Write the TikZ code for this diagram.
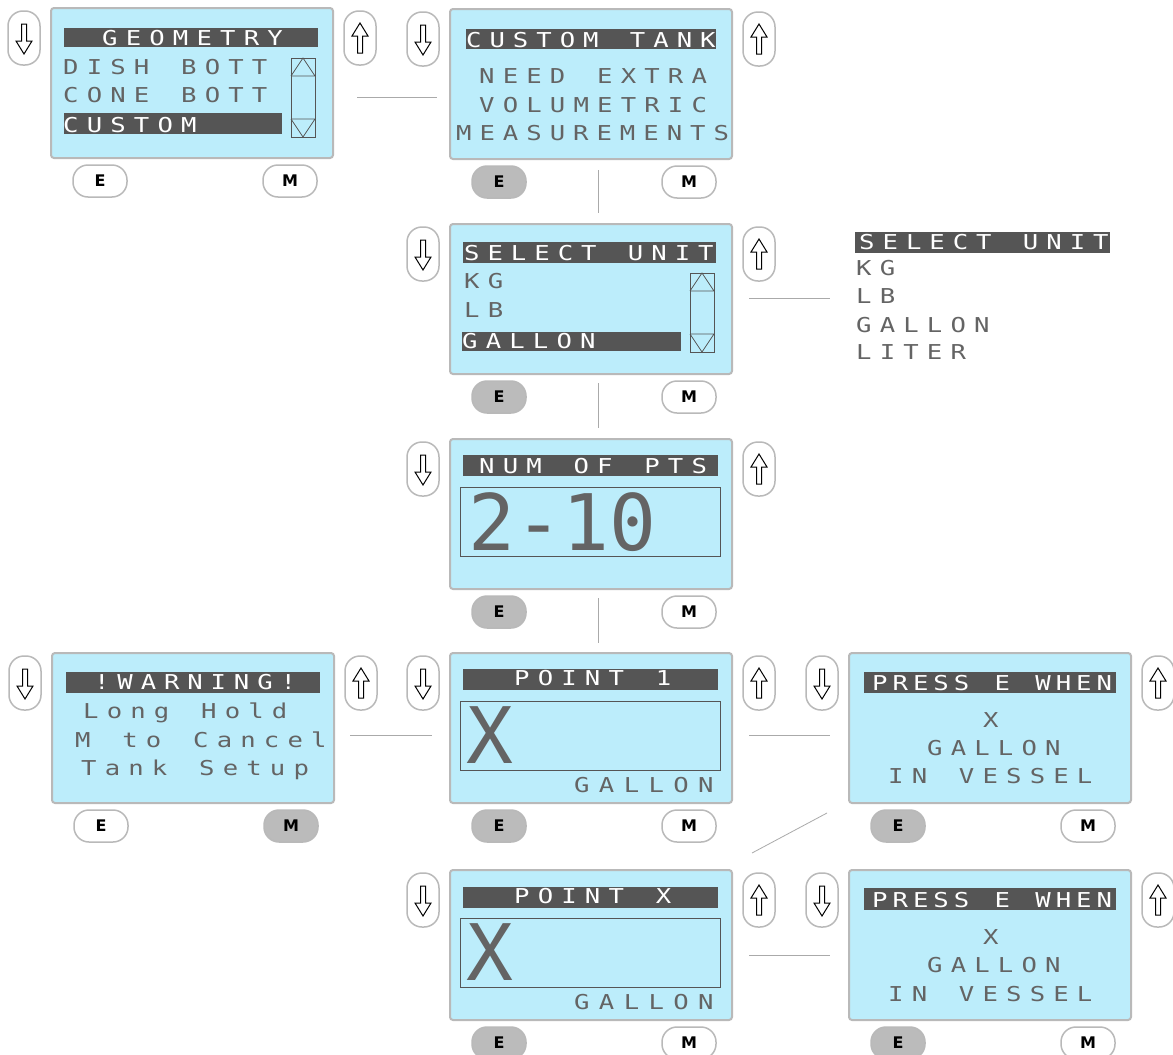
\documentclass[tikz,border=0pt]{standalone}
\usepackage{fontspec}
\usetikzlibrary{calc}
\newfontfamily\lcdfont{DejaVu Sans Mono}[FakeStretch=1.25]
\newfontfamily\lcdbigfont{DejaVu Sans Mono}
\newfontfamily\keyfont{DejaVu Sans}
\definecolor{lcdbg}{RGB}{188,237,251}
\definecolor{lcdedge}{RGB}{185,185,185}
\definecolor{lcdbar}{RGB}{85,85,85}
\definecolor{lcdtext}{RGB}{100,100,100}
\definecolor{keygray}{RGB}{187,187,187}
\definecolor{linkgray}{RGB}{170,170,170}
% one character per cell of fixed pitch, like the display
\ExplSyntaxOn
\NewDocumentCommand \lcdsp { m m } { \str_map_inline:nn {#2} { \makebox[#1][l]{##1} } }
\ExplSyntaxOff

\begin{document}
\begin{tikzpicture}[x=1pt, y=-1pt,
  screen/.style={draw=lcdedge, line width=2pt, fill=lcdbg, rounded corners=3pt,
    minimum width=282pt, minimum height=150pt, inner sep=0pt, outer sep=0pt,
    anchor=north west},
  sidekey/.style={draw=lcdedge, line width=1.5pt, fill=white, rounded corners=15pt,
    minimum width=32pt, minimum height=54pt, inner sep=0pt},
  key/.style={draw=lcdedge, line width=1.5pt, rounded corners=15pt,
    minimum width=54pt, minimum height=32pt, inner sep=0pt,
    font=\keyfont\bfseries\fontsize{16}{16}\selectfont},
  glyph/.style={draw=black, fill=white, line width=1pt},
  bar/.style={fill=lcdbar},
  scroll/.style={draw=lcdbar, line width=0.8pt},
  lcd/.style={font=\lcdfont\fontsize{20.5}{20.5}\selectfont, text=lcdtext,
    inner sep=0pt, anchor=base west},
  lcdw/.style={lcd, text=white},
  lcdbig/.style={lcd, font=\lcdbigfont\fontsize{78}{78}\selectfont},
  link/.style={draw=linkgray, line width=0.8pt}]
  \useasboundingbox (0,0) rectangle (1173,1055);
  \fill[white] (0,0) rectangle (1173,1055);
  % screens with their four keys (E / M fill shows the key to press)
  \foreach \n/\x/\y/\e/\m in {geom/51/8/white/white, tank/450/9/keygray/white,
      unit/450/224/keygray/white, pts/450/439/keygray/white,
      warn/52/653/white/keygray, pt1/450/653/keygray/white,
      press/849/653/keygray/white, ptx/450/870/keygray/white,
      pressx/849/870/keygray/white} {
    \node[screen] (\n) at (\x,\y) {};
    \node[sidekey] (\n-dn) at ($(\n.north west)+(-27,30)$) {};
    \node[sidekey] (\n-up) at ($(\n.north east)+(27,30)$) {};
    \draw[glyph] ($(\n-dn)+(-2.5,-14)$) -- ++(5,0) -- ++(0,17) -- ++(5.5,0)
      -- ++(-8,13) -- ++(-8,-13) -- ++(5.5,0) -- cycle;
    \draw[glyph] ($(\n-up)+(-2.5,15)$) -- ++(5,0) -- ++(0,-17) -- ++(5.5,0)
      -- ++(-8,-13) -- ++(-8,13) -- ++(5.5,0) -- cycle;
    \node[key, fill=\e] (\n-e) at ($(\n.south west)+(49,23)$) {E};
    \node[key, fill=\m] (\n-m) at ($(\n.south east)+(-43,23)$) {M};
  }
  % title bars
  \fill[bar] (64,28) rectangle (318,47);
  \fill[bar] (466,29) rectangle (716,49);
  \fill[bar] (463,242) rectangle (716,263);
  \fill[bar] (855,232) rectangle (1110,253);
  \fill[bar] (463,455) rectangle (718,476);
  \fill[bar] (463,669) rectangle (718,690);
  \fill[bar] (66,672) rectangle (320,693);
  \fill[bar] (864,672) rectangle (1116,693);
  \fill[bar] (463,887) rectangle (718,908);
  \fill[bar] (864,888) rectangle (1116,910);
  % selected menu rows
  \fill[bar] (64,113) rectangle (282,134);
  \fill[bar] (462,332) rectangle (681,351);
  % value frames
  \foreach \vy in {487,701,918}
    \draw[scroll] (460,\vy) rectangle ++(260,69);
  % scroll bars
  \foreach \sx/\sy in {291/58, 690/273} {
    \draw[scroll] (\sx,\sy) rectangle ++(24,79);
    \draw[scroll] (\sx,\sy+18) -- ++(24,0) (\sx,\sy+18) -- ++(12,-18) -- ++(12,18);
    \draw[scroll] (\sx,\sy+61) -- ++(24,0) (\sx,\sy+61) -- ++(12,18) -- ++(12,-18);
  }
  % GEOMETRY
  \node[lcdw] (geom-t) at (102,45) {\lcdsp{23.6pt}{GEOMETRY}};
  \node[lcd] (geom-1) at (63,74) {\lcdsp{23.6pt}{DISH BOTT}};
  \node[lcd] (geom-2) at (63,102) {\lcdsp{23.6pt}{CONE BOTT}};
  \node[lcdw] (geom-3) at (63,132) {\lcdsp{23.6pt}{CUSTOM}};
  % CUSTOM TANK
  \node[lcdw] (tank-t) at (466,47) {\lcdsp{23.4pt}{CUSTOM TANK}};
  \node[lcd] (tank-1) at (479,83) {\lcdsp{23.6pt}{NEED EXTRA}};
  \node[lcd] (tank-2) at (479,112) {\lcdsp{23.6pt}{VOLUMETRIC}};
  \node[lcd] (tank-3) at (456,140) {\lcdsp{23.4pt}{MEASUREMENTS}};
  % SELECT UNIT
  \node[lcdw] (unit-t) at (464,260) {\lcdsp{23.4pt}{SELECT UNIT}};
  \node[lcd] (unit-1) at (464,288) {\lcdsp{23.6pt}{KG}};
  \node[lcd] (unit-2) at (464,317) {\lcdsp{23.6pt}{LB}};
  \node[lcdw] (unit-3) at (462,348) {\lcdsp{23.6pt}{GALLON}};
  % full unit list
  \node[lcdw] (list-t) at (859,249) {\lcdsp{23.4pt}{SELECT UNIT}};
  \node[lcd] (list-1) at (856,275) {\lcdsp{23.6pt}{KG}};
  \node[lcd] (list-2) at (856,303) {\lcdsp{23.6pt}{LB}};
  \node[lcd] (list-3) at (856,332) {\lcdsp{23.6pt}{GALLON}};
  \node[lcd] (list-4) at (856,359) {\lcdsp{23.6pt}{LITER}};
  % NUM OF PTS
  \node[lcdw] (pts-t) at (479,473) {\lcdsp{23.6pt}{NUM OF PTS}};
  \node[lcdbig] (pts-v) at (468,550) {2-10};
  % !WARNING!
  \node[lcdw] (warn-t) at (94,689) {\lcdsp{23.3pt}{!WARNING!}};
  \node[lcd] (warn-1) at (83,718) {\lcdsp{23.6pt}{Long Hold}};
  \node[lcd] (warn-2) at (75,747) {\lcdsp{23.6pt}{M to Cancel}};
  \node[lcd] (warn-3) at (81,775) {\lcdsp{23.6pt}{Tank Setup}};
  % POINT 1 and POINT X
  \node[lcdw] (pt1-t) at (514,685) {\lcdsp{23.6pt}{POINT 1}};
  \node[lcdbig] (pt1-v) at (466,763) {X};
  \node[lcd] (pt1-u) at (574,792) {\lcdsp{24.8pt}{GALLON}};
  \node[lcdw] (ptx-t) at (514,903) {\lcdsp{23.6pt}{POINT X}};
  \node[lcdbig] (ptx-v) at (466,980) {X};
  \node[lcd] (ptx-u) at (574,1009) {\lcdsp{24.8pt}{GALLON}};
  % PRESS E WHEN
  \node[lcdw] (press-t) at (872,690) {\lcdsp{20.4pt}{PRESS E WHEN}};
  \node[lcd] (press-1) at (983,727) {X};
  \node[lcd] (press-2) at (927,755) {\lcdsp{23.6pt}{GALLON}};
  \node[lcd] (press-3) at (888,783) {\lcdsp{23.6pt}{IN VESSEL}};
  \node[lcdw] (pressx-t) at (872,907) {\lcdsp{20.4pt}{PRESS E WHEN}};
  \node[lcd] (pressx-1) at (983,944) {X};
  \node[lcd] (pressx-2) at (927,972) {\lcdsp{23.6pt}{GALLON}};
  \node[lcd] (pressx-3) at (888,1001) {\lcdsp{23.6pt}{IN VESSEL}};
  % connectors between screens
  \draw[link] ($(geom.east)+(24,14)$) -- ($(tank.west)+(-13,13)$);
  \draw[link] ($(tank.south)+(7,11)$) -- ($(unit.north)+(7,-11)$);
  \draw[link] ($(unit.south)+(7,9)$) -- ($(pts.north)+(7,-11)$);
  \draw[link] ($(pts.south)+(7,9)$) -- ($(pt1.north)+(7,-10)$);
  \draw[link] ($(unit.east)+(17,-1)$) -- ($(list-t.base west)+(-29,49)$);
  \draw[link] ($(warn.east)+(16,7)$) -- ($(pt1.west)+(-18,7)$);
  \draw[link] ($(pt1.east)+(17,7)$) -- ($(press.west)+(-19,7)$);
  \draw[link] ($(press.south west)+(-22,10)$) -- ($(ptx.north east)+(20,-17)$);
  \draw[link] ($(ptx.east)+(17,10)$) -- ($(pressx.west)+(-19,10)$);
\end{tikzpicture}
\end{document}
